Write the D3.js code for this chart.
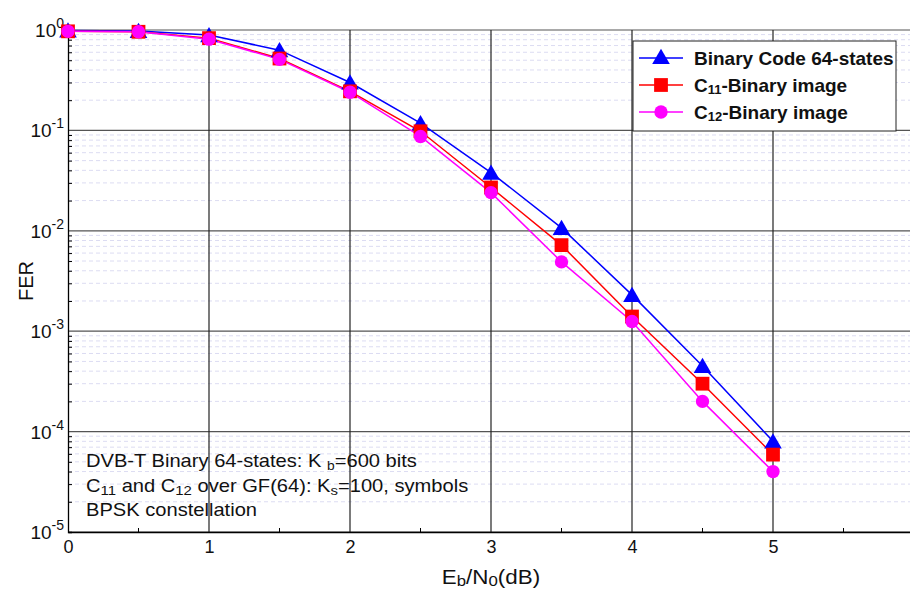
<!DOCTYPE html>
<html>
<head>
<meta charset="utf-8">
<script src="https://cdn.jsdelivr.net/npm/d3@7"></script>
<style>
  body { margin: 0; background: #fff; }
  svg { font-family: 'Liberation Sans', Arial, sans-serif; }
</style>
</head>
<body>
<svg id="chart" width="910" height="590"></svg>
<script>
const ebno = [0, 0.5, 1, 1.5, 2, 2.5, 3, 3.5, 4, 4.5, 5]
const binary64 = [0.99, 0.98, 0.89, 0.63, 0.30, 0.118, 0.038, 0.0107, 0.0023, 0.00045, 0.00008]
const c11 = [0.97, 0.96, 0.83, 0.52, 0.245, 0.098, 0.027, 0.0072, 0.0014, 0.0003, 0.000059]
const c12 = [0.97, 0.96, 0.81, 0.51, 0.24, 0.087, 0.024, 0.0049, 0.00125, 0.0002, 0.00004]
const xTicks = [0, 1, 2, 3, 4, 5]
const yExps = [0, -1, -2, -3, -4, -5]
const seriesNames = ['Binary Code 64-states', 'C11-Binary image', 'C12-Binary image']
const notes = [
    'DVB-T Binary 64-states: K b=600 bits',
    'C11 and C12 over GF(64): Ks=100, symbols',
    'BPSK constellation'
]

function main() {
    let svg = d3.select('#chart'),
        margin = {top: 30, bottom: 58, left: 68, right: 0},
        width = svg.attr('width') - margin.left - margin.right,
        height = svg.attr('height') - margin.top - margin.bottom

    let x = d3.scaleLinear().domain([0, width / 141]).range([margin.left, margin.left + width]),
        y = d3.scaleLog().domain([1e-5, 1]).range([margin.top + height, margin.top])

    // minor dashed grid
    let minors = []
    for (let e = -5; e < 0; e++) for (let m = 2; m <= 9; m++) minors.push(m * Math.pow(10, e))

    svg.append('g').selectAll('line')
        .data(minors)
        .enter().append('line')
        .attr('x1', margin.left).attr('x2', margin.left + width)
        .attr('y1', d => y(d)).attr('y2', d => y(d))
        .attr('stroke', '#dcdcf2').attr('stroke-width', 1)
        .attr('stroke-dasharray', '4,3')

    // major grid
    svg.append('g').selectAll('line')
        .data(yExps)
        .enter().append('line')
        .attr('x1', margin.left).attr('x2', margin.left + width)
        .attr('y1', d => y(Math.pow(10, d))).attr('y2', d => y(Math.pow(10, d)))
        .attr('stroke', '#555').attr('stroke-width', 1.2)

    svg.append('g').selectAll('line')
        .data(xTicks.slice(1))
        .enter().append('line')
        .attr('x1', d => x(d)).attr('x2', d => x(d))
        .attr('y1', margin.top).attr('y2', margin.top + height)
        .attr('stroke', '#222').attr('stroke-width', 1.2)

    // axes
    let xAxis = svg.append('g')
        .attr('transform', 'translate(0,' + (margin.top + height) + ')')
        .call(d3.axisBottom(x).tickValues(xTicks).tickSize(0).tickPadding(8).tickFormat(d3.format('d')))
    xAxis.select('.domain').attr('stroke', '#000').attr('stroke-width', 1.3)
    xAxis.selectAll('text').attr('font-size', 18).attr('fill', '#111').attr('font-family', 'Liberation Sans, Arial')

    svg.append('g').selectAll('line')
        .data([0.5, 1.5, 2.5, 3.5, 4.5, 5.5])
        .enter().append('line')
        .attr('x1', d => x(d)).attr('x2', d => x(d))
        .attr('y1', margin.top + height).attr('y2', margin.top + height - 4)
        .attr('stroke', '#000')

    let yAxis = svg.append('g')
        .attr('transform', 'translate(' + margin.left + ',0)')
        .call(d3.axisLeft(y).tickValues(minors).tickSize(-4).tickFormat(''))
    yAxis.select('.domain').attr('stroke', '#000').attr('stroke-width', 1.3)

    let yLab = svg.append('g').selectAll('text')
        .data(yExps)
        .enter().append('text')
        .attr('x', margin.left - 4)
        .attr('y', d => y(Math.pow(10, d)) + 7)
        .attr('text-anchor', 'end')
        .attr('font-size', 19)
        .attr('fill', '#111')
    yLab.append('tspan').text('10')
    yLab.append('tspan').attr('dy', -9).attr('font-size', 14).text(d => d)

    // series
    let series = [
        {name: seriesNames[0], values: binary64, color: '#0000ff', shape: d3.symbolTriangle, size: 135},
        {name: seriesNames[1], values: c11, color: '#ff0000', shape: d3.symbolSquare, size: 190},
        {name: seriesNames[2], values: c12, color: '#ff00ff', shape: d3.symbolCircle, size: 140}
    ]
    let line = d3.line().x((d, i) => x(ebno[i])).y(d => y(d))

    series.forEach(s => {
        svg.append('path')
            .datum(s.values)
            .attr('fill', 'none')
            .attr('stroke', s.color)
            .attr('stroke-width', 1.5)
            .attr('d', line)
    })
    series.forEach(s => {
        svg.append('g').selectAll('path')
            .data(s.values)
            .enter().append('path')
            .attr('transform', (d, i) => 'translate(' + x(ebno[i]) + ',' + (y(d) + (s.shape === d3.symbolTriangle ? 2 : 0)) + ')')
            .attr('d', d3.symbol().type(s.shape).size(s.size))
            .attr('fill', s.color)
    })

    // legend
    let lg = svg.append('g').attr('transform', 'translate(633,41)')
    lg.append('rect').attr('width', 263).attr('height', 90)
        .attr('fill', '#fff').attr('stroke', '#222').attr('stroke-width', 1)
    series.forEach((s, i) => {
        let row = lg.append('g').attr('transform', 'translate(0,' + (17 + i * 27) + ')')
        row.append('line').attr('x1', 6).attr('x2', 50).attr('stroke', s.color).attr('stroke-width', 1.5)
        row.append('path').attr('transform', 'translate(28,' + (s.shape === d3.symbolTriangle ? 1 : 0) + ')')
            .attr('d', d3.symbol().type(s.shape).size(s.size)).attr('fill', s.color)
        let t = row.append('text').attr('x', 61).attr('y', 7).attr('font-size', 19)
            .attr('font-weight', 'bold').attr('fill', '#111')
        if (i === 0) {
            t.text(s.name)
        } else {
            t.append('tspan').text('C')
            t.append('tspan').attr('font-size', 13).attr('dy', 2).text(s.name.slice(1, 3))
            t.append('tspan').attr('dy', -2).text(s.name.slice(3))
        }
    })

    // annotation (text in the source is drawn a little wider than the font)
    let notesG = svg.append('g').attr('font-size', 17.5).attr('fill', '#111')
        .attr('transform', 'translate(86,0) scale(1.15,1)')
    let n0 = notesG.append('text').attr('x', 0).attr('y', 467)
    n0.append('tspan').text('DVB-T Binary 64-states: K ')
    n0.append('tspan').attr('font-size', 12).attr('dy', 3).text('b')
    n0.append('tspan').attr('dy', -3).text('=600 bits')

    let n1 = notesG.append('text').attr('x', 0).attr('y', 492)
    n1.append('tspan').text('C')
    n1.append('tspan').attr('font-size', 13).attr('dy', 3).text('11')
    n1.append('tspan').attr('dy', -3).text(' and C')
    n1.append('tspan').attr('font-size', 13).attr('dy', 3).text('12')
    n1.append('tspan').attr('dy', -3).text(' over GF(64): K')
    n1.append('tspan').attr('font-size', 13).attr('dy', 3).text('s')
    n1.append('tspan').attr('dy', -3).text('=100, symbols')

    notesG.append('text').attr('x', 0).attr('y', 516).text(notes[2])

    // axis titles
    svg.append('text')
        .attr('transform', 'translate(33,' + (margin.top + height / 2) + ') rotate(-90)')
        .attr('text-anchor', 'middle').attr('font-size', 20).attr('fill', '#111')
        .text('FER')

    let xt = svg.append('text').attr('x', 491).attr('y', 584)
        .attr('text-anchor', 'middle').attr('font-size', 20).attr('fill', '#111')
        .attr('transform', 'translate(491,0) scale(1.12,1) translate(-491,0)')
    xt.append('tspan').text('E')
    xt.append('tspan').attr('font-size', 15).attr('dy', 2).text('b')
    xt.append('tspan').attr('dy', -2).text('/N')
    xt.append('tspan').attr('font-size', 15).attr('dy', 2).text('0')
    xt.append('tspan').attr('dy', -2).text('(dB)')
}

main()
</script>
</body>
</html>
